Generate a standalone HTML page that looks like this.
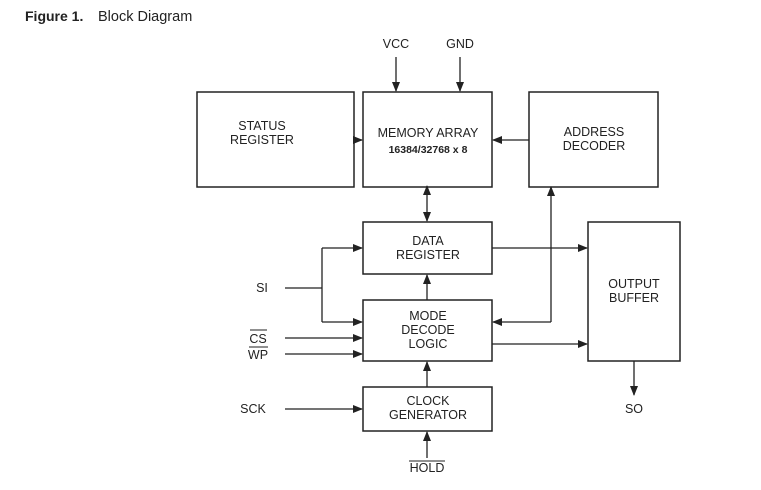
<!DOCTYPE html>
<html><head><style>
html,body{margin:0;padding:0;background:#fff;}
</style></head><body>
<svg width="761" height="485" xmlns="http://www.w3.org/2000/svg" font-family="Liberation Sans, sans-serif">
<defs>
<marker id="a" markerWidth="10" markerHeight="8" refX="9" refY="4" orient="auto" markerUnits="userSpaceOnUse">
<path d="M0,0 L10,4 L0,8 z" fill="#222"/></marker>
</defs>
<text x="25" y="21" font-size="14" font-weight="bold" fill="#222">Figure 1.</text>
<text x="98" y="21" font-size="14.5" fill="#222">Block Diagram</text>
<g fill="none" stroke="#222" stroke-width="1.5">
<rect x="197" y="92" width="157" height="95"/>
<rect x="363" y="92" width="129" height="95"/>
<rect x="529" y="92" width="129" height="95"/>
<rect x="363" y="222" width="129" height="52"/>
<rect x="363" y="300" width="129" height="61"/>
<rect x="363" y="387" width="129" height="44"/>
<rect x="588" y="222" width="92" height="139"/>
</g>
<g fill="none" stroke="#222" stroke-width="1.3" marker-end="url(#a)">
<line x1="396" y1="57" x2="396" y2="91"/>
<line x1="460" y1="57" x2="460" y2="91"/>
<line x1="354" y1="140" x2="362" y2="140"/>
<line x1="529" y1="140" x2="493" y2="140"/>
<line x1="427" y1="205" x2="427" y2="186"/>
<line x1="427" y1="205" x2="427" y2="221"/>
<polyline points="551,322 551,187"/>
<line x1="551" y1="322" x2="493" y2="322"/>
<line x1="492" y1="248" x2="587" y2="248"/>
<line x1="492" y1="344" x2="587" y2="344"/>
<polyline points="322,248 362,248"/>
<polyline points="322,322 362,322"/>
<line x1="285" y1="338" x2="362" y2="338"/>
<line x1="285" y1="354" x2="362" y2="354"/>
<line x1="285" y1="409" x2="362" y2="409"/>
<line x1="427" y1="300" x2="427" y2="275"/>
<line x1="427" y1="387" x2="427" y2="362"/>
<line x1="427" y1="458" x2="427" y2="432"/>
<line x1="634" y1="361" x2="634" y2="395"/>
</g>
<g fill="none" stroke="#222" stroke-width="1.3">
<line x1="285" y1="288" x2="322" y2="288"/>
<line x1="322" y1="248" x2="322" y2="322"/>
</g>
<g font-size="12.5" fill="#222" text-anchor="middle">
<text x="396" y="48">VCC</text>
<text x="460" y="48">GND</text>
<text x="262" y="130">STATUS</text>
<text x="262" y="144">REGISTER</text>
<text x="428" y="137">MEMORY ARRAY</text>
<text x="428" y="153" font-size="10.5" font-weight="bold">16384/32768 x 8</text>
<text x="594" y="136">ADDRESS</text>
<text x="594" y="150">DECODER</text>
<text x="428" y="245">DATA</text>
<text x="428" y="259">REGISTER</text>
<text x="428" y="320">MODE</text>
<text x="428" y="334">DECODE</text>
<text x="428" y="348">LOGIC</text>
<text x="428" y="405">CLOCK</text>
<text x="428" y="419">GENERATOR</text>
<text x="634" y="288">OUTPUT</text>
<text x="634" y="302">BUFFER</text>
<text x="262" y="292">SI</text>
<text x="258" y="343">CS</text>
<text x="258" y="359">WP</text>
<text x="253" y="413">SCK</text>
<text x="427" y="472">HOLD</text>
<text x="634" y="413">SO</text>
</g>
<g stroke="#222" stroke-width="1">
<line x1="250" y1="330" x2="267" y2="330"/>
<line x1="249" y1="347" x2="268" y2="347"/>
<line x1="409" y1="461" x2="445" y2="461"/>
</g>
</svg>
</body></html>
